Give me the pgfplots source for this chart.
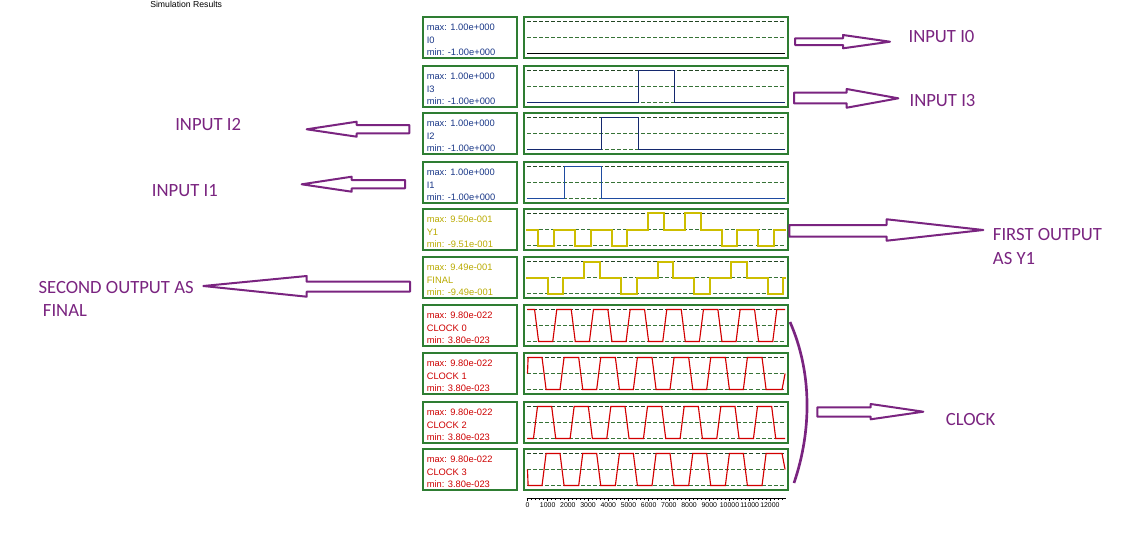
\documentclass[border=0pt]{standalone}
\usepackage{fontspec}
\setmainfont{Liberation Sans}
\newfontfamily\calibri{Carlito}
\usepackage{pgfplots}
\pgfplotsset{compat=1.18}
\definecolor{purp}{RGB}{122,36,128}
\definecolor{boxg}{RGB}{46,125,50}
\definecolor{dashg}{RGB}{55,115,55}
\definecolor{dashd}{RGB}{35,70,35}
\definecolor{lblue}{RGB}{25,55,135}
\definecolor{lyel}{RGB}{185,170,0}
\definecolor{lred}{RGB}{205,0,0}
\definecolor{tyel}{RGB}{205,190,0}
\definecolor{tred}{RGB}{210,0,0}
\definecolor{tnavy}{RGB}{20,40,110}
\definecolor{tblue}{RGB}{30,75,160}
\pgfplotsset{
  panel/.style={anchor=north west, scale only axis, width=198pt, height=30.75pt,
    xmin=-173, xmax=12895, xtick=\empty, ytick=\empty,
    axis line style={draw=boxg, line width=0.9pt}},
  topd/.style={dashd, line width=0.8pt, dash pattern=on 3pt off 1.5pt, mark=none},
  midd/.style={dashg, line width=0.8pt, dash pattern=on 3pt off 1.5pt, mark=none},
  sig/.style={line width=0.85pt, mark=none},
  ysig/.style={line width=1.5pt, mark=none, draw=tyel, line cap=rect},
  ipanel/.style={panel, ymin=-1.28, ymax=1.28},
  ypanel/.style={panel, ymin=-1.216, ymax=1.216},
  cpanel/.style={panel, ymin=-9.4e-23, ymax=1.112e-21},
}
\newcommand\ilines{%
  \addplot[topd] coordinates {(0,1) (12750,1)};
  \addplot[midd] coordinates {(0,0) (12750,0)};
  \addplot[midd] coordinates {(0,-1) (12750,-1)};}
\newcommand\clines{%
  \addplot[topd] coordinates {(0,9.8e-22) (12750,9.8e-22)};
  \addplot[midd] coordinates {(0,5.09e-22) (12750,5.09e-22)};
  \addplot[midd] coordinates {(0,3.8e-23) (12750,3.8e-23)};}
\newcommand\lbl[5]{%
  \draw[boxg, line width=0.9pt] (423,#1) rectangle (517,{#1+41});
  \node[anchor=west, inner sep=0, text=#2, font=\fontsize{7}{8}\selectfont] at (426.5,{#1+10.3}) {#3};
  \node[anchor=west, inner sep=0, text=#2, font=\fontsize{7}{8}\selectfont] at (426.5,{#1+23}) {#4};
  \node[anchor=west, inner sep=0, text=#2, font=\fontsize{7}{8}\selectfont] at (426.5,{#1+34.7}) {#5};}
\begin{document}
\begin{tikzpicture}
\path[use as bounding box] (0,0) rectangle (855pt,-412.5pt);
\clip (0,0) rectangle (855pt,-412.5pt);

% I0
\begin{axis}[ipanel, at={(393pt,-12.75pt)}]
\ilines
\addplot[sig, black] coordinates {(0,-1) (12750,-1)};
\end{axis}
% I3
\begin{axis}[ipanel, at={(393pt,-49.5pt)}]
\ilines
\addplot[sig, tnavy] coordinates {(0,-1) (5480,-1) (5480,1) (7270,1) (7270,-1) (12750,-1)};
\end{axis}
% I2
\begin{axis}[ipanel, at={(393pt,-84.75pt)}]
\ilines
\addplot[sig, tnavy] coordinates {(0,-1) (3670,-1) (3670,1) (5480,1) (5480,-1) (12750,-1)};
\end{axis}
% I1
\begin{axis}[ipanel, at={(393pt,-121.5pt)}]
\ilines
\addplot[sig, tblue] coordinates {(0,-1) (1820,-1) (1820,1) (3670,1) (3670,-1) (12750,-1)};
\end{axis}
% Y1
\begin{axis}[ypanel, at={(393pt,-156.75pt)}]
\addplot[topd] coordinates {(0,0.95) (12750,0.95)};
\addplot[midd] coordinates {(0,0) (12750,0)};
\addplot[midd] coordinates {(0,-0.951) (12750,-0.951)};
\addplot[ysig] coordinates {(0,0)(540,0)(540,-0.951)(1320,-0.951)(1320,0)(2355,0)(2355,-0.951)(3135,-0.951)(3135,0)(4170,0)(4170,-0.951)(4950,-0.951)(4950,0)(5985,0)(5985,0.95)(6765,0.95)(6765,0)(7800,0)(7800,0.95)(8580,0.95)(8580,0)(9615,0)(9615,-0.951)(10395,-0.951)(10395,0)(11430,0)(11430,-0.951)(12210,-0.951)(12210,0)(12750,0)};
\end{axis}
% FINAL
\begin{axis}[ypanel, at={(393pt,-192.75pt)}]
\addplot[topd] coordinates {(0,0.949) (12750,0.949)};
\addplot[midd] coordinates {(0,0) (12750,0)};
\addplot[midd] coordinates {(0,-0.949) (12750,-0.949)};
\addplot[ysig] coordinates {(0,0)(1000,0)(1000,-0.949)(1775,-0.949)(1775,0)(2815,0)(2815,0.949)(3590,0.949)(3590,0)(4630,0)(4630,-0.949)(5405,-0.949)(5405,0)(6445,0)(6445,0.949)(7220,0.949)(7220,0)(8260,0)(8260,-0.949)(9035,-0.949)(9035,0)(10075,0)(10075,0.949)(10850,0.949)(10850,0)(11890,0)(11890,-0.949)(12665,-0.949)(12665,0)(12750,0)};
\end{axis}
% CLOCK 0
\begin{axis}[cpanel, at={(393pt,-228.75pt)}]
\clines
\addplot[sig, tred] coordinates {(0,9.8e-22)(350,9.8e-22)(550,3.8e-23)(1250,3.8e-23)(1450,9.8e-22)(2165,9.8e-22)(2365,3.8e-23)(3065,3.8e-23)(3265,9.8e-22)(3980,9.8e-22)(4180,3.8e-23)(4880,3.8e-23)(5080,9.8e-22)(5795,9.8e-22)(5995,3.8e-23)(6695,3.8e-23)(6895,9.8e-22)(7610,9.8e-22)(7810,3.8e-23)(8510,3.8e-23)(8710,9.8e-22)(9425,9.8e-22)(9625,3.8e-23)(10325,3.8e-23)(10525,9.8e-22)(11240,9.8e-22)(11440,3.8e-23)(12140,3.8e-23)(12340,9.8e-22)(12750,9.8e-22)};
\end{axis}
% CLOCK 1
\begin{axis}[cpanel, at={(393pt,-264.75pt)}]
\clines
\addplot[sig, tred] coordinates {(0,5.09e-22)(30,9.8e-22)(720,9.8e-22)(920,3.8e-23)(1610,3.8e-23)(1810,9.8e-22)(2535,9.8e-22)(2735,3.8e-23)(3425,3.8e-23)(3625,9.8e-22)(4350,9.8e-22)(4550,3.8e-23)(5240,3.8e-23)(5440,9.8e-22)(6165,9.8e-22)(6365,3.8e-23)(7055,3.8e-23)(7255,9.8e-22)(7980,9.8e-22)(8180,3.8e-23)(8870,3.8e-23)(9070,9.8e-22)(9795,9.8e-22)(9995,3.8e-23)(10685,3.8e-23)(10885,9.8e-22)(11610,9.8e-22)(11810,3.8e-23)(12600,3.8e-23)(12750,5.09e-22)};
\end{axis}
% CLOCK 2
\begin{axis}[cpanel, at={(393pt,-301.5pt)}]
\clines
\addplot[sig, tred] coordinates {(0,3.8e-23)(295,3.8e-23)(495,9.8e-22)(1197,9.8e-22)(1397,3.8e-23)(2110,3.8e-23)(2310,9.8e-22)(3012,9.8e-22)(3212,3.8e-23)(3925,3.8e-23)(4125,9.8e-22)(4827,9.8e-22)(5027,3.8e-23)(5740,3.8e-23)(5940,9.8e-22)(6642,9.8e-22)(6842,3.8e-23)(7555,3.8e-23)(7755,9.8e-22)(8457,9.8e-22)(8657,3.8e-23)(9370,3.8e-23)(9570,9.8e-22)(10272,9.8e-22)(10472,3.8e-23)(11185,3.8e-23)(11385,9.8e-22)(12087,9.8e-22)(12287,3.8e-23)(12750,3.8e-23)};
\end{axis}
% CLOCK 3
\begin{axis}[cpanel, at={(393pt,-336.75pt)}]
\clines
\addplot[sig, tred] coordinates {(0,5.09e-22)(30,3.8e-23)(720,3.8e-23)(920,9.8e-22)(1610,9.8e-22)(1810,3.8e-23)(2535,3.8e-23)(2735,9.8e-22)(3425,9.8e-22)(3625,3.8e-23)(4350,3.8e-23)(4550,9.8e-22)(5240,9.8e-22)(5440,3.8e-23)(6165,3.8e-23)(6365,9.8e-22)(7055,9.8e-22)(7255,3.8e-23)(7980,3.8e-23)(8180,9.8e-22)(8870,9.8e-22)(9070,3.8e-23)(9795,3.8e-23)(9995,9.8e-22)(10685,9.8e-22)(10885,3.8e-23)(11610,3.8e-23)(11810,9.8e-22)(12600,9.8e-22)(12750,5.09e-22)};
\end{axis}
% time ruler
\begin{axis}[anchor=south west, at={(395.0pt,-373.7pt)}, scale only axis, width=194.25pt, height=2pt,
  xmin=-40, xmax=12781, ymin=0, ymax=1, axis x line*=bottom, axis y line=none, ytick=\empty,
  xtick={0,1000,...,12000}, minor xtick={0,200,...,12800}, tick align=outside,
  major tick length=2.2pt, minor tick length=1.4pt, scaled x ticks=false,
  axis line style={black, line width=0.9pt}, tick style={black, line width=0.4pt},
  xticklabel style={font=\fontsize{5.2}{6}\selectfont, inner sep=1pt},
  /pgf/number format/1000 sep={}, /pgf/number format/fixed, /pgf/number format/assume math mode=true]
\addplot[draw=none] coordinates {(0,0)};
\end{axis}

\begin{scope}[x=0.75pt, y=-0.75pt]
\node[anchor=north west, inner sep=0, font=\fontsize{6.5}{7}\selectfont] at (150,0.6) {Simulation Results};
\lbl{17}{lblue}{max: 1.00e+000}{I0}{min: -1.00e+000}
\lbl{66}{lblue}{max: 1.00e+000}{I3}{min: -1.00e+000}
\lbl{113}{lblue}{max: 1.00e+000}{I2}{min: -1.00e+000}
\lbl{162}{lblue}{max: 1.00e+000}{I1}{min: -1.00e+000}
\lbl{209}{lyel}{max: 9.50e-001}{Y1}{min: -9.51e-001}
\lbl{257}{lyel}{max: 9.49e-001}{FINAL}{min: -9.49e-001}
\lbl{305}{lred}{max: 9.80e-022}{CLOCK 0}{min: 3.80e-023}
\lbl{353}{lred}{max: 9.80e-022}{CLOCK 1}{min: 3.80e-023}
\lbl{402}{lred}{max: 9.80e-022}{CLOCK 2}{min: 3.80e-023}
\lbl{449}{lred}{max: 9.80e-022}{CLOCK 3}{min: 3.80e-023}

\begin{scope}[purp, line width=1.5pt, line join=round]
\draw (795,38.3)--(843,38.3)--(843,35)--(890,41.7)--(843,48.3)--(843,45)--(795,45)--cycle;
\draw (794,92.7)--(846.7,92.7)--(846.7,89)--(898.3,98.3)--(846.7,107.7)--(846.7,103.3)--(794,103.3)--cycle;
\draw (789.3,225)--(886.7,225)--(886.7,219.3)--(983.3,230)--(886.7,240.7)--(886.7,236.7)--(789.3,236.7)--cycle;
\draw (817.3,407.3)--(870.7,407.3)--(870.7,404)--(923.3,411.7)--(870.7,419.3)--(870.7,416.7)--(817.3,416.7)--cycle;
\draw (409.3,125)--(356.7,125)--(356.7,121.7)--(306.7,129.3)--(356.7,136.7)--(356.7,133.3)--(409.3,133.3)--cycle;
\draw (405,180)--(351.7,180)--(351.7,176.7)--(301.7,184.3)--(351.7,191.7)--(351.7,188.3)--(405,188.3)--cycle;
\draw (410,281.7)--(306.7,281.7)--(306.7,276)--(203.3,286)--(306.7,296.7)--(306.7,291.7)--(410,291.7)--cycle;
\draw[line width=2pt] (790,322) .. controls (812,372) and (812,430) .. (794,483);
\end{scope}

\begin{scope}[every node/.style={anchor=west, inner sep=0, text=purp, font=\calibri\fontsize{14}{16}\selectfont}]
\node at (908.3,36.7) {INPUT I0};
\node at (909.3,100.7) {INPUT I3};
\node at (992.7,235) {FIRST OUTPUT};
\node at (992.7,258.3) {AS Y1};
\node at (945.7,420) {CLOCK};
\node at (175,125) {INPUT I2};
\node at (151.7,190.7) {INPUT I1};
\node at (38.3,287.3) {SECOND OUTPUT AS};
\node at (42.7,310.7) {FINAL};
\end{scope}
\end{scope}
\end{tikzpicture}
\end{document}
